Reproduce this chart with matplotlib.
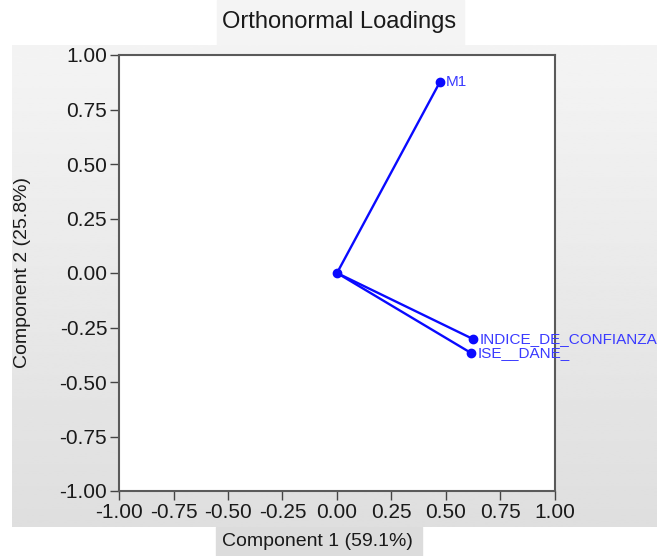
import matplotlib.pyplot as plt
import numpy as np
from matplotlib.patches import Rectangle

# loadings
variables = ["M1", "INDICE_DE_CONFIANZA", "ISE__DANE_"]
comp1 = [0.472, 0.624, 0.615]
comp2 = [0.876, -0.303, -0.367]
ticks = [-1.00, -0.75, -0.50, -0.25, 0.00, 0.25, 0.50, 0.75, 1.00]
title = "Orthonormal Loadings"
xlabel = "Component 1 (59.1%)"
ylabel = "Component 2 (25.8%)"

plt.rcParams["font.family"] = ["Liberation Sans", "DejaVu Sans"]

W, H = 657, 556
fig = plt.figure(figsize=(W / 100, H / 100), dpi=100)


def box(x0, y0, x1, y1):
    # pixel box (top-left origin) -> figure fraction rect
    return [x0 / W, 1 - y1 / H, (x1 - x0) / W, (y1 - y0) / H]


# gray gradient backdrop behind the plot
bg = fig.add_axes(box(12, 45, 657, 527), zorder=-2)
grad = np.linspace(0.957, 0.872, 256).reshape(-1, 1)
bg.imshow(grad, cmap="gray", vmin=0, vmax=1, aspect="auto", extent=[0, 1, 0, 1])
bg.axis("off")

# title and x-label boxes
fig.patches.append(Rectangle((217 / W, 1 - 45 / H), 247 / W, 45 / H,
                             transform=fig.transFigure, color="#f4f4f4", zorder=-3))
fig.patches.append(Rectangle((216 / W, 0), 206 / W, 29 / H,
                             transform=fig.transFigure, color="#dcdcdc", zorder=-3))

ax = fig.add_axes(box(119, 55, 555, 491))
ax.set_facecolor("white")

for x, y, name in zip(comp1, comp2, variables):
    ax.plot([0, x], [0, y], color="#0a0aff", lw=1.7, zorder=3)
    ax.plot([x], [y], "o", color="#0a0aff", ms=6, zorder=4)
    ax.annotate(name, (x, y), xytext=(4.5, 0), textcoords="offset points",
                va="center", ha="left", fontsize=11, color="#3a3aff",
                annotation_clip=False, clip_on=False)
ax.plot([0], [0], "o", color="#0a0aff", ms=6, zorder=4)

ax.set_xlim(-1, 1)
ax.set_ylim(-1, 1)
ax.set_xticks(ticks)
ax.set_yticks(ticks)
ax.set_xticklabels([f"{t:.2f}" for t in ticks])
ax.set_yticklabels([f"{t:.2f}" for t in ticks])
ax.tick_params(direction="out", length=6.5, width=1, labelsize=15,
               color="#444444", labelcolor="#1a1a1a", pad=2)
for s in ax.spines.values():
    s.set_color("#5a5a5a")
    s.set_linewidth(1.5)

fig.text(339 / W, 1 - 22 / H, title, ha="center", va="center", fontsize=17, color="#1a1a1a")
fig.text(317 / W, 1 - 541 / H, xlabel, ha="center", va="center", fontsize=14, color="#1a1a1a")
fig.text(23 / W, 1 - 272 / H, ylabel, ha="center", va="center", fontsize=14,
         rotation=90, color="#1a1a1a")

fig.savefig("out.png", dpi=100)
